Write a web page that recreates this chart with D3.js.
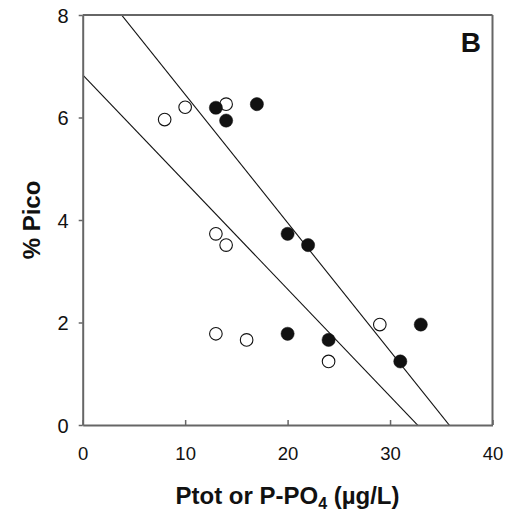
<!DOCTYPE html>
<html><head><meta charset="utf-8">
<script src="https://cdn.jsdelivr.net/npm/d3@7"></script>
<style>body{margin:0;background:#fff}svg{display:block}text{font-family:"Liberation Sans",Arial,sans-serif}</style>
</head><body>
<svg id="c" width="507" height="513"></svg>
<script>
// Open circles (P-PO4)
const openX = [8, 10, 14, 13, 14, 13, 16, 24, 29];
const openY = [5.96, 6.2, 6.26, 3.73, 3.51, 1.78, 1.66, 1.24, 1.96];
// Filled circles (Ptot)
const filledX = [13, 14, 17, 20, 22, 20, 24, 31, 33];
const filledY = [6.19, 5.94, 6.26, 3.73, 3.51, 1.78, 1.66, 1.24, 1.96];
// Regression lines: [intercept, slope]
const lineIntercepts = [8.95, 6.83];
const lineSlopes = [-0.2502, -0.209];
const xTicks = [0, 10, 20, 30, 40];
const yTicks = [0, 2, 4, 6, 8];

const svg = d3.select("#c");
const L = 82.7, R = 492.5, T = 15, B = 425;
const x = d3.scaleLinear().domain([0, 40]).range([L, R]);
const y = d3.scaleLinear().domain([0, 8]).range([B, T]);
const axisCol = "#666";

svg.append("defs").append("clipPath").attr("id", "clip")
  .append("rect").attr("x", L).attr("y", T).attr("width", R - L).attr("height", B - T);

// regression lines
const g = svg.append("g").attr("clip-path", "url(#clip)");
lineIntercepts.forEach((a, i) => {
  const b = lineSlopes[i];
  g.append("line")
    .attr("x1", x(0)).attr("y1", y(a))
    .attr("x2", x(40)).attr("y2", y(a + b * 40))
    .attr("stroke", "#111").attr("stroke-width", 1.1);
});

// axes
const xa = svg.append("g").attr("transform", `translate(0,${B})`)
  .call(d3.axisBottom(x).tickValues(xTicks).tickSizeInner(-5).tickSizeOuter(0).tickPadding(22));
const ya = svg.append("g").attr("transform", `translate(${L},0)`)
  .call(d3.axisLeft(y).tickValues(yTicks).tickSizeInner(4).tickSizeOuter(0).tickPadding(10));
[xa, ya].forEach(a => {
  a.select(".domain").attr("stroke", axisCol).attr("stroke-width", 2);
  a.selectAll(".tick line").attr("stroke", axisCol).attr("stroke-width", 1.5);
  a.selectAll(".tick text").attr("fill", "#111")
    .style("font-family", '"Liberation Sans",Arial,sans-serif');
});
xa.selectAll(".tick text").attr("font-size", 18.5);
ya.selectAll(".tick text").attr("font-size", 20).attr("dy", "0.36em");
// frame top/right
svg.append("line").attr("x1", L).attr("x2", R).attr("y1", T).attr("y2", T).attr("stroke", axisCol).attr("stroke-width", 2);
svg.append("line").attr("x1", R).attr("x2", R).attr("y1", T).attr("y2", B).attr("stroke", axisCol).attr("stroke-width", 2);

// points
svg.append("g").selectAll("circle").data(openX).join("circle")
  .attr("cx", d => x(d)).attr("cy", (d, i) => y(openY[i])).attr("r", 6.3)
  .attr("fill", "#fff").attr("stroke", "#111").attr("stroke-width", 1.1);
svg.append("g").selectAll("circle").data(filledX).join("circle")
  .attr("cx", d => x(d)).attr("cy", (d, i) => y(filledY[i])).attr("r", 6.6)
  .attr("fill", "#111").attr("stroke", "#111").attr("stroke-width", 0.5);

// labels
svg.append("text").attr("x", 481).attr("y", 52).attr("text-anchor", "end")
  .attr("font-size", 28).attr("font-weight", "bold").attr("fill", "#111").text("B");
svg.append("text").attr("transform", `translate(40,${(T + B) / 2}) rotate(-90)`)
  .attr("text-anchor", "middle").attr("font-size", 24).attr("font-weight", "bold").attr("fill", "#111").text("% Pico");
const xl = svg.append("text").attr("x", 287.5).attr("y", 504).attr("text-anchor", "middle")
  .attr("font-size", 24).attr("font-weight", "bold").attr("fill", "#111");
xl.append("tspan").text("Ptot or P-PO");
xl.append("tspan").attr("font-size", 16).attr("dy", 5).text("4");
xl.append("tspan").attr("dy", -5).text(" (µg/L)");
</script>
</body></html>
